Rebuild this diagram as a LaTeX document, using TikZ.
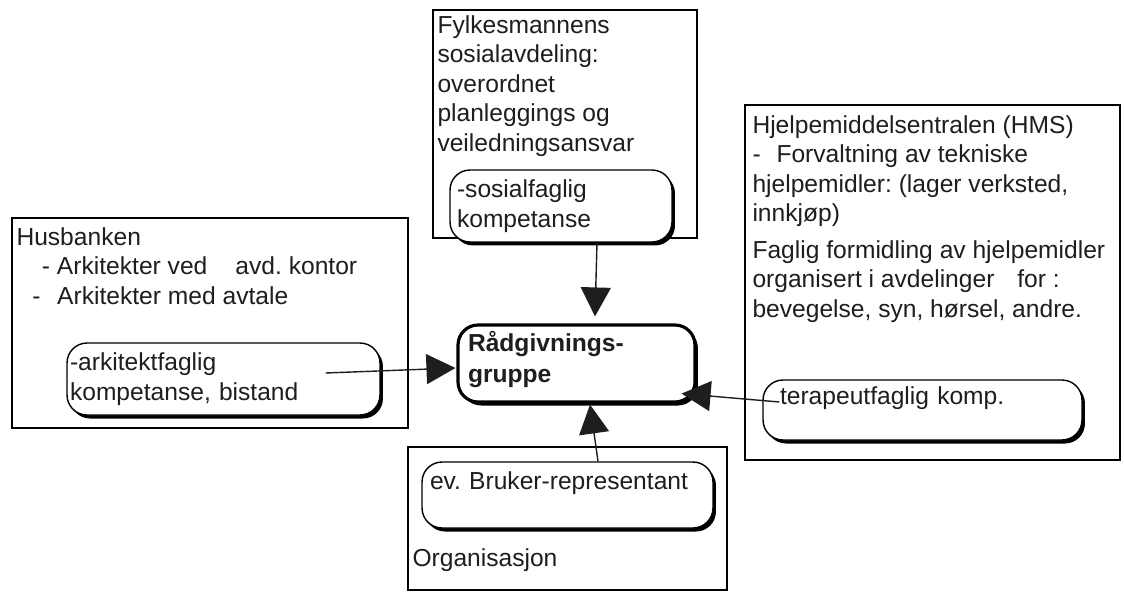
\documentclass[tikz,border=0pt]{standalone}
\usepackage{fontspec}
\setmainfont{Liberation Sans}
\usetikzlibrary{arrows.meta,positioning,shadows}
\definecolor{inkgray}{RGB}{30,30,30}
\frenchspacing

\begin{document}
\begin{tikzpicture}[x=0.02cm,y=-0.02cm,
  font=\fontsize{14}{16.8}\selectfont,
  unit/.style={draw=black,line width=1pt,fill=white,inner sep=0pt},
  heading/.style={align=left,inner sep=0pt,text=inkgray},
  part/.style={draw=black,line width=.8pt,fill=white,rounded corners=.4cm,align=left,inner ysep=2pt,text=inkgray,
    drop shadow={shadow xshift=.06cm,shadow yshift=-.07cm,fill=black,opacity=1}},
  hub/.style={part,line width=1.8pt,font=\fontsize{14}{17.6}\selectfont\bfseries},
  feed/.style={-{Triangle[length=5.8mm,width=6mm]},draw=inkgray,line width=.8pt}]

\path[use as bounding box] (0,0) rectangle (1124,592);

% units
\node[unit,minimum width=5.28cm,minimum height=4.56cm] (fylke) at (565,124) {};
\node[unit,minimum width=7.92cm,minimum height=4.2cm] (husbank) at (210,323) {};
\node[unit,minimum width=7.5cm,minimum height=7.1cm] (hms) at (932.5,282.5) {};
\node[unit,minimum width=6.38cm,minimum height=2.86cm] (org) at (567.5,518.5) {};

\node[heading,below right=.12cm and .1cm of fylke.north west] (fylketxt)
  {Fylkesmannens\\sosialavdeling:\\overordnet\\planleggings og\\veiledningsansvar};
\node[heading,below right=.2cm and .1cm of husbank.north west] (husbanktxt)
  {Husbanken\\\hspace*{14.5pt}- Arkitekter ved\hspace{16pt}avd. kontor\\\hspace*{9pt}-\hspace{9.5pt}Arkitekter med avtale};
\node[heading,below right=.22cm and .16cm of hms.north west] (hmstxt)
  {Hjelpemiddelsentralen (HMS)\\-\hspace{9pt}Forvaltning av tekniske\\hjelpemidler: (lager verksted,\\innkjøp)\\[4pt]Faglig formidling av hjelpemidler\\organisert i avdelinger\hspace{13pt}for :\\bevegelse, syn, hørsel, andre.};
\node[heading,below right=2.04cm and .1cm of org.north west] (orgtxt) {Organisasjon};

% competences
\node[part,minimum width=4.44cm,minimum height=1.44cm,text width=4.16cm,inner xsep=.14cm] (sosial) at (561,206)
  {-sosialfaglig\\kompetanse};
\node[part,minimum width=6.26cm,minimum height=1.44cm,text width=6.14cm,inner xsep=.06cm] (arkitekt) at (223.5,379)
  {-arkitektfaglig\\kompetanse, bistand};
\node[part,minimum width=6.38cm,minimum height=1.2cm,text width=5.7cm,inner xsep=.34cm] (terapeut) at (922.5,410)
  {terapeutfaglig komp.\\\mbox{}};
\node[part,minimum width=5.82cm,minimum height=1.32cm,text width=5.5cm,inner xsep=.16cm] (bruker) at (567.5,495)
  {ev. Bruker-representant\\\mbox{}};
\node[hub,minimum width=4.74cm,minimum height=1.54cm,text width=4.34cm,inner xsep=.2cm] (raad) at (576.5,363.5)
  {Rådgivnings-\\gruppe\\[-10pt]\mbox{}};

\draw[feed] ([xshift=.72cm]sosial.south) -- ([xshift=.37cm,yshift=.14cm]raad.north);
\draw[feed] ([xshift=-1.1cm,yshift=.12cm]arkitekt.east) -- ([xshift=-.02cm,yshift=-.09cm]raad.west);
\draw[feed] ([xshift=.61cm]bruker.north) -- ([xshift=.27cm,yshift=-.02cm]raad.south);
\draw[feed] ([xshift=.34cm,yshift=.16cm]terapeut.west) -- ([xshift=-.3cm,yshift=.2cm]raad.south east);

\end{tikzpicture}
\end{document}
